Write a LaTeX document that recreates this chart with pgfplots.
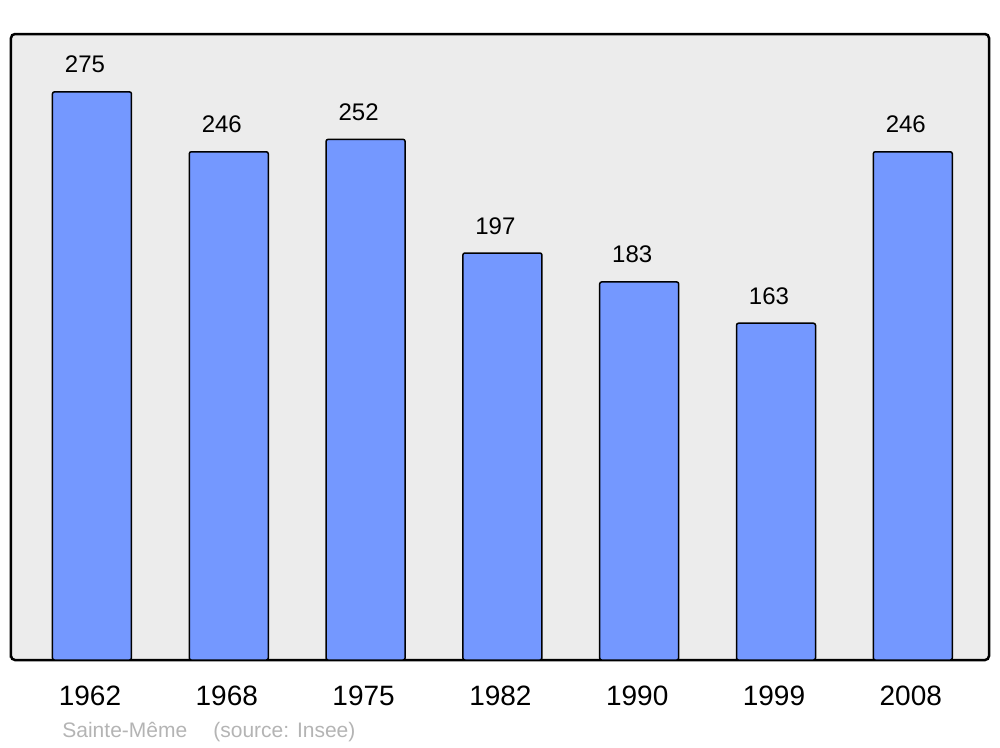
\documentclass[border=0pt]{standalone}
\usepackage{pgfplots}
\pgfplotsset{compat=1.18}
\usepackage{fontspec}
\setmainfont{Liberation Sans}

\definecolor{barblue}{HTML}{7498FF}
\definecolor{bggray}{HTML}{ECECEC}
\definecolor{srcgray}{HTML}{B4B4B4}

\begin{document}
\begin{tikzpicture}
    \begin{axis}[
        name=a,
        scale only axis,
        width=489pt,
        height=313pt,
        ybar,
        bar width=39.5pt,
        xmin=-0.592, xmax=6.557,
        ymin=0, ymax=303,
        axis background/.style={fill=bggray},
        axis line style={line width=1.25pt, rounded corners=2pt},
        xtick=data,
        xticklabels={1962,1968,1975,1982,1990,1999,2008},
        xticklabel style={anchor=base, yshift=-22.5pt, xshift=-1pt, font=\fontsize{14}{16}\selectfont},
        major tick length=0pt,
        ytick=\empty,
        /pgf/number format/assume math mode=true,
        nodes near coords,
        every node near coord/.append style={anchor=base, yshift=9.5pt, xshift=-3.5pt,
            font=\fontsize{12}{14}\selectfont, black},
    ]
        \addplot[fill=barblue, draw=black, line width=0.75pt, rounded corners=1pt] coordinates {
            (0,275)
            (1,246)
            (2,252)
            (3,197)
            (4,183)
            (5,163)
            (6,246)
        };
    \end{axis}
    \node[anchor=base west, text=srcgray, font=\fontsize{10.5}{12}\selectfont, inner sep=0pt]
        at ([shift={(25.5pt,-38.5pt)}]a.south west) {Sainte-Même};
    \node[anchor=base west, text=srcgray, font=\fontsize{10.5}{12}\selectfont, inner sep=0pt]
        at ([shift={(101pt,-38.5pt)}]a.south west) {(source: Insee)};
    \pgfresetboundingbox
    \path ([shift={(-5.5pt,-43.5pt)}]a.south west) rectangle ([shift={(5.5pt,17pt)}]a.north east);
\end{tikzpicture}
\end{document}
